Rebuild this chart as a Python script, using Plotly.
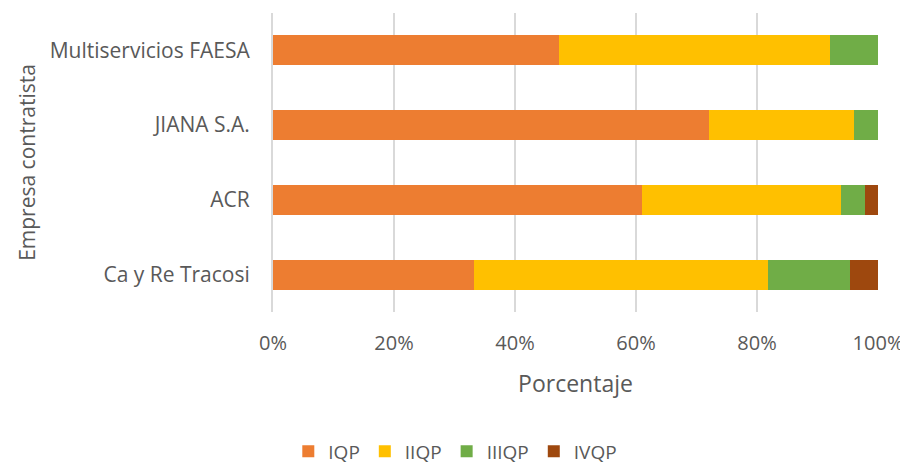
import plotly.graph_objects as go

categories = ["Ca y Re Tracosi", "ACR", "JIANA S.A.", "Multiservicios FAESA"]
series_names = ["IQP", "IIQP", "IIIQP", "IVQP"]
iqp = [33.3, 61.0, 72.0, 47.3]
iiqp = [48.5, 32.9, 24.0, 44.7]
iiiqp = [13.6, 4.0, 4.0, 8.0]
ivqp = [4.6, 2.1, 0.0, 0.0]
colors = ["#ED7D31", "#FFC000", "#70AD47", "#9E480E"]
tick_vals = [0, 20, 40, 60, 80, 100]
tick_text = ["0%", "20%", "40%", "60%", "80%", "100%"]

font_family = "Open Sans, Liberation Sans, sans-serif"
gray = "#595959"

fig = go.Figure()
for name, vals, c in zip(series_names, [iqp, iiqp, iiiqp, ivqp], colors):
    fig.add_trace(go.Bar(
        y=categories, x=vals, name=name, orientation="h",
        marker=dict(color=c, line=dict(width=0)),
    ))

fig.update_layout(
    barmode="stack",
    bargap=0.6,
    width=900, height=457,
    margin=dict(l=265, r=30, t=5, b=153),
    paper_bgcolor="white", plot_bgcolor="white",
    font=dict(family=font_family, size=16, color=gray),
    showlegend=True,
    legend=dict(orientation="h", xref="container", yref="container",
                x=0.497, xanchor="center", y=0.03, yanchor="middle",
                font=dict(size=19, color=gray), traceorder="normal",
                itemwidth=30, tracegroupgap=0),
    xaxis=dict(range=[0, 100], tickvals=tick_vals, ticktext=tick_text,
               showgrid=True, gridcolor="#D9D9D9", gridwidth=2,
               zeroline=False, showline=False, ticks="", automargin=False,
               ticklabelstandoff=17,
               tickfont=dict(size=20, color=gray),
               title=dict(text="Porcentaje", font=dict(size=23, color=gray), standoff=20)),
    yaxis=dict(showline=True, linecolor="#D9D9D9", linewidth=2, ticks="",
               automargin=False, ticklabelstandoff=17,
               tickfont=dict(size=21, color=gray),
               title=dict(text="Empresa contratista", font=dict(size=21, color=gray), standoff=8)),
)

fig.write_html("out.html")
